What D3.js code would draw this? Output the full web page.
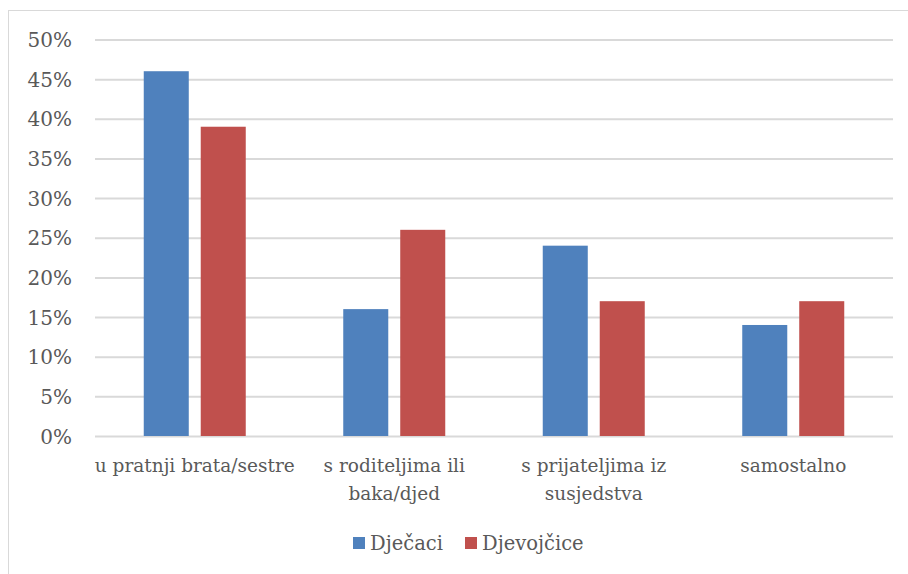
<!DOCTYPE html>
<html><head><meta charset="utf-8">
<script src="https://cdn.jsdelivr.net/npm/d3@7"></script>
<style>body{margin:0;background:#fff}svg{display:block}
text{font-family:"DejaVu Serif",serif;font-size:18.5px;fill:#595959}
.tick text{font-size:20px}
.legend text{font-size:19.5px}</style>
</head><body>
<svg id="c" width="908" height="574"></svg>
<script>
const categories = ["u pratnji brata/sestre", "s roditeljima ili baka/djed", "s prijateljima iz susjedstva", "samostalno"];
const categoryLines = [["u pratnji brata/sestre"], ["s roditeljima ili", "baka/djed"], ["s prijateljima iz", "susjedstva"], ["samostalno"]];
const seriesNames = ["Dječaci", "Djevojčice"];
const boys = [46, 16, 24, 14];
const girls = [39, 26, 17, 17];
const yTicks = [0, 5, 10, 15, 20, 25, 30, 35, 40, 45, 50];
const colors = ["#4F81BD", "#C0504D"];

(function () {
const svg = d3.select("#c");

svg.append("rect").attr("x", 8.5).attr("y", 10.5).attr("width", 920).attr("height", 600)
  .attr("fill", "none").attr("stroke", "#d9d9d9").attr("stroke-width", 1);

const pl = 95, pr = 893, pt = 39.5, pb = 436;
const x0 = d3.scaleBand().domain(categories).range([pl, pr]);
const x1 = d3.scaleBand().domain(seriesNames).range([0, 102]).paddingInner(0.21);
const y = d3.scaleLinear().domain([0, 50]).range([pb, pt]);

const yAxis = d3.axisLeft(y).tickValues(yTicks).tickSize(-(pr - pl)).tickFormat(d => d + "%").tickPadding(23);
const gy = svg.append("g").attr("transform", `translate(${pl},0)`).call(yAxis);
gy.attr("font-family", null).attr("font-size", null);
gy.select(".domain").remove();
gy.selectAll(".tick line").attr("stroke", "#d9d9d9").attr("stroke-width", 2);
gy.selectAll(".tick text").attr("fill", null).attr("dy", "0.35em");

const data = categories.map((c, i) => ({c, vals: [boys[i], girls[i]]}));
const groups = svg.append("g").selectAll("g").data(data).join("g")
  .attr("transform", d => `translate(${x0(d.c) + x0.bandwidth()/2 - 51},0)`);
groups.selectAll("rect").data(d => d.vals.map((v, j) => ({v, s: seriesNames[j], j})))
  .join("rect")
  .attr("x", d => x1(d.s)).attr("width", x1.bandwidth())
  .attr("y", d => y(d.v)).attr("height", d => y(0) - y(d.v))
  .attr("fill", d => colors[d.j]);

const gx = svg.append("g");
categories.forEach((c, i) => {
  const cx = x0(c) + x0.bandwidth()/2;
  const t = gx.append("text").attr("x", cx).attr("y", 472).attr("text-anchor", "middle");
  categoryLines[i].forEach((ln, k) => {
    t.append("tspan").attr("x", cx).attr("dy", k === 0 ? 0 : 28).text(ln);
  });
});

const legendX = [353, 465];
const lg = svg.append("g").attr("class", "legend");
seriesNames.forEach((s, i) => {
  lg.append("rect").attr("x", legendX[i]).attr("y", 537).attr("width", 12).attr("height", 12).attr("fill", colors[i]);
  lg.append("text").attr("x", legendX[i] + 17).attr("y", 550).text(s);
});
})();
</script>
</body></html>
